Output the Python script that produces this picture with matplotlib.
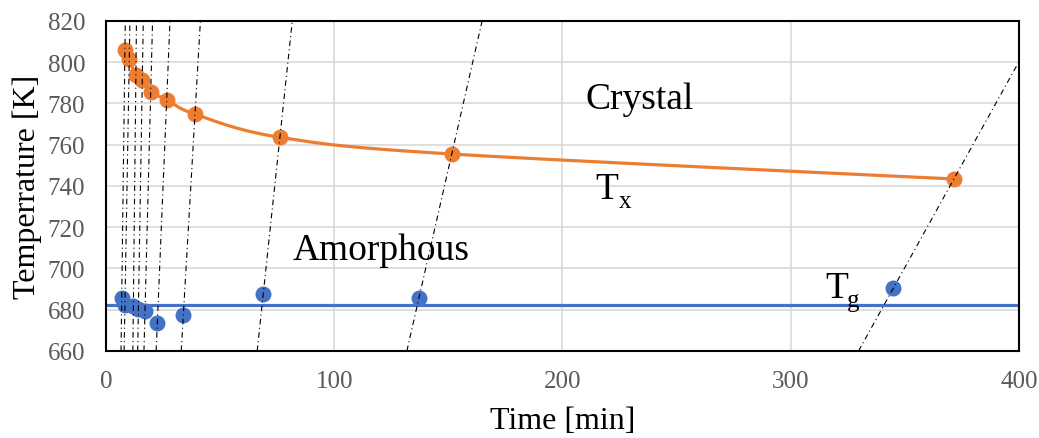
import numpy as np
import matplotlib
matplotlib.use("Agg")
import matplotlib.pyplot as plt

plt.rcParams['font.family'] = ['Liberation Serif', 'DejaVu Serif']

# crystallization onset (Tx) and glass transition (Tg) points
tx_time = [8.3, 10.2, 13.1, 15.9, 19.6, 26.6, 39.0, 76.2, 151.5, 371.5]
tx_temp = [805.8, 801.4, 793.7, 791.2, 785.6, 781.8, 774.8, 763.6, 755.5, 743.4]
tg_time = [6.9, 8.3, 12.0, 14.2, 17.1, 22.5, 33.9, 68.9, 137.1, 344.9]
tg_temp = [685.7, 682.3, 682.0, 680.4, 679.5, 673.5, 677.6, 687.6, 685.6, 690.3]

x_ticks = [0, 100, 200, 300, 400]
y_ticks = [660, 680, 700, 720, 740, 760, 780, 800, 820]

ORANGE = '#ED7D31'
BLUE = '#4472C4'
GRAY_TXT = '#595959'


def smooth_curve(x, y, n=40):
    # Bezier smoothing through every point (like a spreadsheet "smooth line")
    pts = np.column_stack([x, y])
    p = np.vstack([pts[0], pts, pts[-1]])
    out = []
    s = np.linspace(0, 1, n)[:, None]
    for i in range(1, len(p) - 2):
        p0, p1, p2, p3 = p[i - 1], p[i], p[i + 1], p[i + 2]
        c1 = p1 + (p2 - p0) / 6
        c2 = p2 - (p3 - p1) / 6
        seg = (1 - s) ** 3 * p1 + 3 * (1 - s) ** 2 * s * c1 + 3 * (1 - s) * s ** 2 * c2 + s ** 3 * p2
        out.append(seg)
    return np.vstack(out)


fig = plt.figure(figsize=(10.39, 4.39), dpi=100)
ax = fig.add_axes([0.1020, 0.1982, 0.8787, 0.7517])

ax.set_xlim(0, 400)
ax.set_ylim(660, 820)

# grid
ax.set_xticks(x_ticks)
ax.set_yticks(y_ticks)
ax.grid(True, color='#D9D9D9', lw=1.2, zorder=0)
ax.set_axisbelow(True)

# mean Tg line
tg_mean = np.mean(tg_temp)
ax.axhline(tg_mean, color=BLUE, lw=2.3, zorder=2)

# smoothed Tx curve
curve = smooth_curve(tx_time, tx_temp)
ax.plot(curve[:, 0], curve[:, 1], color=ORANGE, lw=2.3, zorder=3)

ax.plot(tx_time, tx_temp, 'o', color=ORANGE, ms=11.5, mec='none', zorder=4)
ax.plot(tg_time, tg_temp, 'o', color=BLUE, ms=11.5, mec='none', zorder=4)

# heating lines through each Tg/Tx pair
T_span = np.array([660, 820])
for tb, Tb, to, To in zip(tg_time, tg_temp, tx_time, tx_temp):
    k = (to - tb) / (To - Tb)
    ax.plot(tb + (T_span - Tb) * k, T_span, color='black', lw=0.8,
            linestyle=(0, (5, 3, 1, 3)), zorder=5)

# region labels
ax.text(210.3, 777.7, 'Crystal', fontsize=27, va='baseline', ha='left')
ax.text(81.9, 704.6, 'Amorphous', fontsize=27, va='baseline', ha='left')
ax.text(214.2, 734.2, 'T', fontsize=27, va='baseline', ha='left')
ax.text(224.8, 729.8, 'x', fontsize=18, va='baseline', ha='left')
ax.text(315.0, 686.3, 'T', fontsize=27, va='baseline', ha='left')
ax.text(324.5, 682.0, 'g', fontsize=18, va='baseline', ha='left')

for sp in ax.spines.values():
    sp.set_color('black')
    sp.set_linewidth(1.5)

ax.tick_params(axis='both', length=0, labelsize=18, labelcolor=GRAY_TXT)
ax.tick_params(axis='y', pad=15)
ax.tick_params(axis='x', pad=14)

ax.set_xlabel('Time [min]', fontsize=23, labelpad=10)
ax.set_ylabel('Temperrature [K]', fontsize=23, labelpad=4)

fig.savefig('out.png', dpi=100)
